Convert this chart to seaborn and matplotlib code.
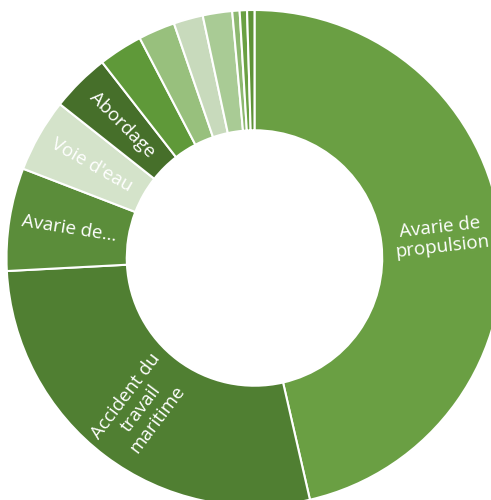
import matplotlib
matplotlib.use("Agg")
import matplotlib.pyplot as plt
import seaborn as sns
import numpy as np

# Incident categories (counts), clockwise from 12 o'clock
categories = [
    "Avarie de\npropulsion",
    "Accident du\ntravail\nmaritime",
    "Avarie de...",
    "Voie d'eau",
    "Abordage",
    "", "", "", "", "", "", "",
]
counts = [97, 58, 14, 10, 8, 6, 5, 4, 4, 1, 1, 1]

slice_colors = [
    "#6a9f43", "#507f32", "#5b8d3a", "#d4e3ca", "#466f2a",
    "#5f9939", "#98c07d", "#c8dabc", "#a9cb95", "#8db870",
    "#6aa043", "#5e9238",
]

sns.set_theme(style="white")
plt.rcParams["font.family"] = ["Open Sans", "DejaVu Sans"]

fig = plt.figure(figsize=(4.91, 5.00), dpi=100)
ax = fig.add_axes([0, 0, 1, 1])

outer_r = 1.0
ring_w = 0.485
wedges, _ = ax.pie(
    counts,
    colors=slice_colors,
    startangle=90,
    counterclock=False,
    radius=outer_r,
    wedgeprops=dict(width=ring_w, edgecolor="white", linewidth=1.5),
)

# Radial labels at the middle of the ring
label_r = outer_r - ring_w / 2
for w, lab in zip(wedges, categories):
    if not lab:
        continue
    mid = np.deg2rad((w.theta1 + w.theta2) / 2)
    x, y = label_r * np.cos(mid), label_r * np.sin(mid)
    rot = np.rad2deg(mid)
    if np.cos(mid) < 0:
        rot += 180
    rot = (rot + 180) % 360 - 180
    ax.text(x, y, lab, ha="center", va="center", rotation=rot,
            rotation_mode="anchor", color="white", fontsize=13.5,
            linespacing=1.1, multialignment="center")

# Place the ring inside the canvas (scale ~248 px per unit)
s = 248.0
cx, cy = 254.5, 500 - 258.0
ax.set_xlim(-cx / s, (491 - cx) / s)
ax.set_ylim(-cy / s, (500 - cy) / s)
ax.set_aspect("equal")
ax.axis("off")

fig.savefig("out.png", dpi=100, facecolor="white")
